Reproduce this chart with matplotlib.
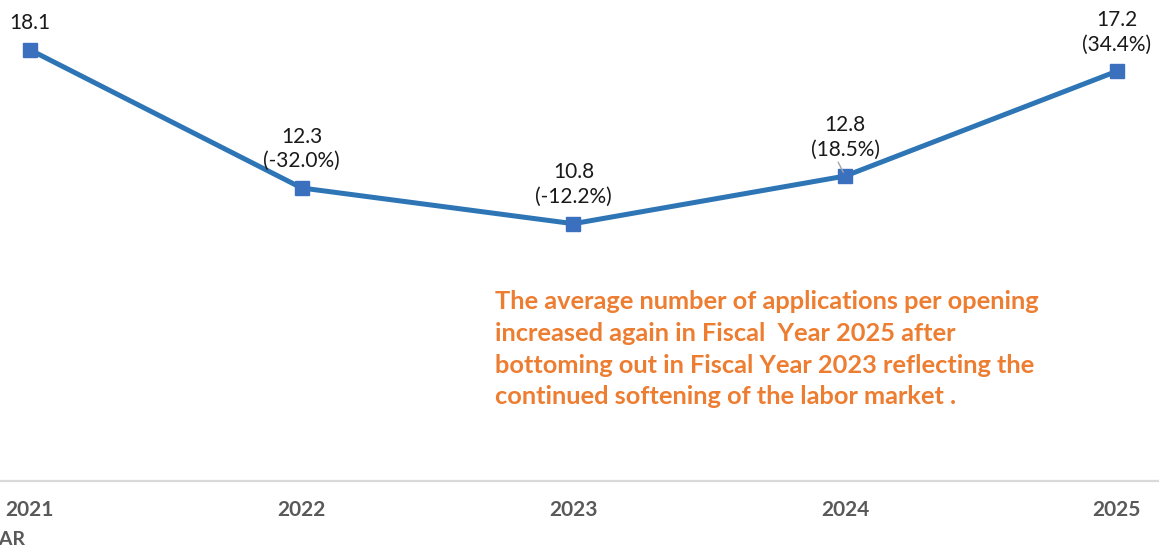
import matplotlib.pyplot as plt

plt.rcParams['font.family'] = ['Lato', 'DejaVu Sans']

years = ['2021', '2022', '2023', '2024', '2025']
apps_per_opening = [18.1, 12.3, 10.8, 12.8, 17.2]
pct_change = [None, '(-32.0%)', '(-12.2%)', '(18.5%)', '(34.4%)']

note = ("The average number of applications per opening\n"
        "increased again in Fiscal  Year 2025 after\n"
        "bottoming out in Fiscal Year 2023 reflecting the\n"
        "continued softening of the labor market .")

fig = plt.figure(figsize=(11.59, 5.52), dpi=100)
ax = fig.add_axes([0, 71 / 552, 1, 481 / 552])

x = list(range(len(years)))
ax.plot(x, apps_per_opening, color='#2E75B6', lw=3.6, marker='s',
        markersize=10, markerfacecolor='#3A70BE', markeredgecolor='#3A70BE',
        solid_joinstyle='miter')

for i, (v, p) in enumerate(zip(apps_per_opening, pct_change)):
    lbl = f'{v:.1f}' if p is None else f'{v:.1f}\n{p}'
    ax.annotate(lbl, (i, v), xytext=(0, 12), textcoords='offset points',
                ha='center', va='bottom', fontsize=15, color='#1a1a1a',
                linespacing=1.3)

# short leader line for the 2024 label
ax.annotate('', xy=(3, 12.8), xytext=(-5, 10), textcoords='offset points',
            arrowprops=dict(arrowstyle='-', color='#A6A6A6', lw=1,
                            shrinkA=0, shrinkB=3))

ax.text(1.711, 8.0, note, color='#ED7D31', fontsize=18.3, fontweight='bold',
        ha='left', va='top', linespacing=1.45)

ax.set_xlim(-0.11, 4.155)
ax.set_ylim(0, 20.19)
ax.set_xticks(x)
ax.set_xticklabels(years, fontsize=15, fontweight='bold', color='#595959')
ax.tick_params(axis='x', length=0, pad=14)
ax.set_yticks([])
for s in ['top', 'left', 'right']:
    ax.spines[s].set_visible(False)
ax.spines['bottom'].set_color('#D9D9D9')
ax.spines['bottom'].set_linewidth(1.6)

fig.text(25 / 1159, 1 - 531 / 552, 'FISCAL YEAR', ha='right', va='top',
         fontsize=14, fontweight='bold', color='#595959')

fig.savefig('out.png', dpi=100)
